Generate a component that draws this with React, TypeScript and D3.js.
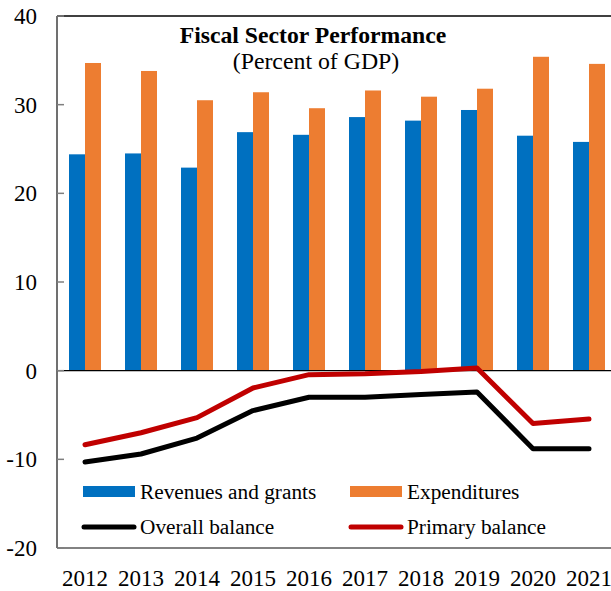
import React from "react";
import * as d3 from "d3";

const years = ["2012", "2013", "2014", "2015", "2016", "2017", "2018", "2019", "2020", "2021"];
const revenues = [24.4, 24.5, 22.9, 26.9, 26.6, 28.6, 28.2, 29.4, 26.5, 25.8];
const expenditures = [34.7, 33.8, 30.5, 31.4, 29.6, 31.6, 30.9, 31.8, 35.4, 34.6];
const overallBalance = [-10.3, -9.4, -7.6, -4.5, -3.0, -3.0, -2.7, -2.4, -8.8, -8.8];
const primaryBalance = [-8.35, -7.0, -5.3, -1.95, -0.45, -0.35, -0.1, 0.3, -5.95, -5.45];
const yTicks = [-20, -10, 0, 10, 20, 30, 40];

const W = 611;
const H = 591;
const left = 57;
const right = 617;
const top = 16;
const bottom = 548;
const FONT = "'Liberation Serif', 'Times New Roman', serif";
const BLUE = "#0070C0";
const ORANGE = "#ED7D31";
const RED = "#C00000";

export default function App() {
  const x = d3.scaleBand<string>().domain(years).range([left, right]).paddingInner(0.42857).paddingOuter(0.214285);
  const sub = d3.scaleBand<string>().domain(["rev", "exp"]).range([0, x.bandwidth()]);
  const y = d3.scaleLinear().domain([-20, 40]).range([bottom, top]);
  const cx = (yr: string) => (x(yr) as number) + x.bandwidth() / 2;
  const line = d3
    .line<number>()
    .x((_, i) => cx(years[i]))
    .y((d) => y(d));

  return (
    <svg width={W} height={H} style={{ position: "absolute", left: 0, top: 0, background: "#fff" }} fontFamily={FONT}>
      <rect x={0} y={0} width={W} height={H} fill="#fff" />
      {years.map((yr, i) => (
        <g key={yr}>
          <rect
            x={(x(yr) as number) + (sub("rev") as number)}
            y={y(revenues[i])}
            width={sub.bandwidth()}
            height={y(0) - y(revenues[i])}
            fill={BLUE}
          />
          <rect
            x={(x(yr) as number) + (sub("exp") as number)}
            y={y(expenditures[i])}
            width={sub.bandwidth()}
            height={y(0) - y(expenditures[i])}
            fill={ORANGE}
          />
        </g>
      ))}
      {/* frame lines */}
      <line x1={left} x2={right} y1={top} y2={top} stroke="#000" strokeWidth={1.5} />
      <line x1={left} x2={right} y1={y(0)} y2={y(0)} stroke="#000" strokeWidth={1.2} />
      <line x1={left} x2={right} y1={bottom} y2={bottom} stroke="#595959" strokeWidth={1.5} />
      <line x1={left} x2={left} y1={top} y2={bottom} stroke="#404040" strokeWidth={1.5} />
      {yTicks.map((t) => (
        <g key={t}>
          <line x1={left} x2={left + 7} y1={y(t)} y2={y(t)} stroke="#7f7f7f" strokeWidth={1.5} />
          <text x={37} y={y(t)} dy="0.35em" textAnchor="end" fontSize={23} fill="#000">
            {t}
          </text>
        </g>
      ))}
      {years.map((yr) => (
        <text key={yr} x={cx(yr)} y={586} textAnchor="middle" fontSize={23} fill="#000">
          {yr}
        </text>
      ))}
      <path d={line(overallBalance) || ""} fill="none" stroke="#000" strokeWidth={5} strokeLinecap="round" strokeLinejoin="round" />
      <path d={line(primaryBalance) || ""} fill="none" stroke={RED} strokeWidth={5} strokeLinecap="round" strokeLinejoin="round" />
      {/* title */}
      <text x={313} y={43} textAnchor="middle" fontSize={23.7} fontWeight="bold" fill="#000">
        Fiscal Sector Performance
      </text>
      <text x={316} y={69} textAnchor="middle" fontSize={23.8} fill="#000">
        (Percent of GDP)
      </text>
      {/* legend */}
      <rect x={83} y={486} width={52} height={11} fill={BLUE} />
      <text x={140} y={499} fontSize={21.3} fill="#000">Revenues and grants</text>
      <rect x={350} y={486} width={52} height={11} fill={ORANGE} />
      <text x={407} y={499} fontSize={21.3} fill="#000">Expenditures</text>
      <line x1={84} x2={134} y1={527} y2={527} stroke="#000" strokeWidth={5} strokeLinecap="round" />
      <text x={140} y={534} fontSize={21.3} fill="#000">Overall balance</text>
      <line x1={351} x2={401} y1={527} y2={527} stroke={RED} strokeWidth={5} strokeLinecap="round" />
      <text x={407} y={534} fontSize={21.3} fill="#000">Primary balance</text>
    </svg>
  );
}
